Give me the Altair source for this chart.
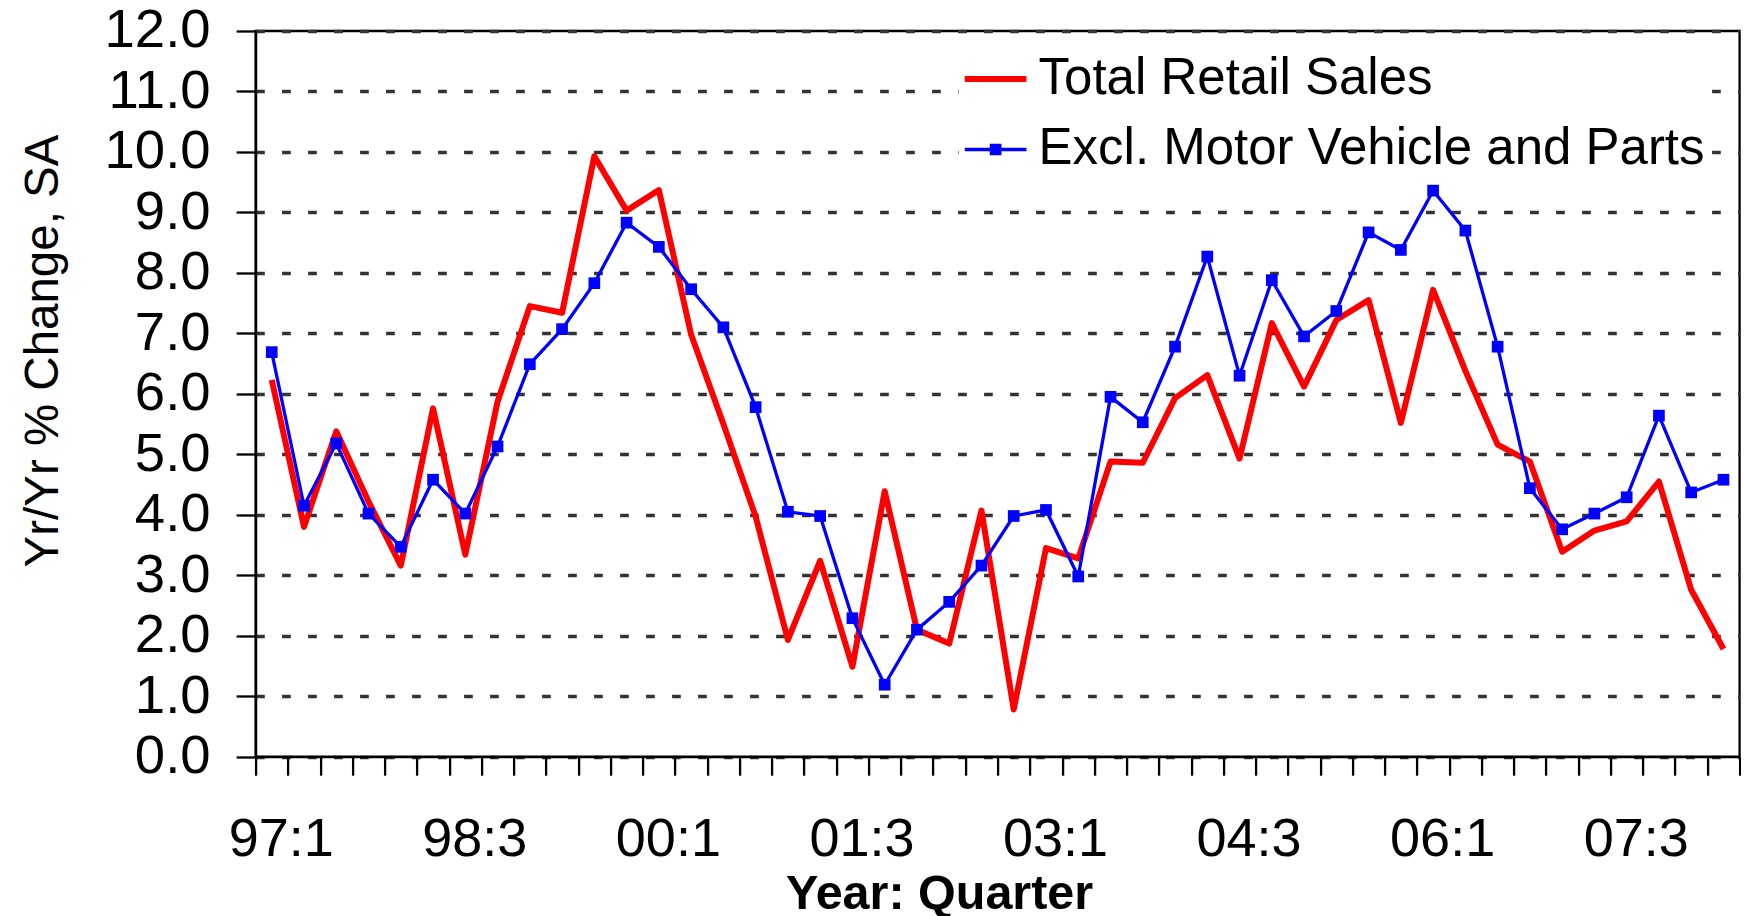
import json
import altair as alt
import pandas as pd

# ---- data -------------------------------------------------------------
quarters = [f"{y % 100:02d}:{q}" for y in range(1997, 2009) for q in range(1, 5)][:46]
shown_labels = ["97:1", "98:3", "00:1", "01:3", "03:1", "04:3", "06:1", "07:3"]

series_names = ["Total Retail Sales", "Excl. Motor Vehicle and Parts"]

total_retail = [6.23, 3.80, 5.38, 4.22, 3.16, 5.76, 3.34, 5.87, 7.45, 7.34,
                9.93, 9.03, 9.37, 6.98, 5.50, 3.97, 1.93, 3.24, 1.49, 4.39,
                2.10, 1.87, 4.07, 0.78, 3.45, 3.28, 4.88, 4.86, 5.93, 6.31,
                4.93, 7.17, 6.12, 7.22, 7.55, 5.52, 7.72, 6.38, 5.16, 4.88,
                3.39, 3.74, 3.89, 4.55, 2.76, 1.78]

excl_motor = [6.69, 4.15, 5.18, 4.02, 3.47, 4.58, 4.02, 5.13, 6.49, 7.07,
              7.83, 8.83, 8.43, 7.73, 7.10, 5.78, 4.05, 3.98, 2.29, 1.19,
              2.10, 2.56, 3.16, 3.98, 4.08, 2.98, 5.95, 5.53, 6.78, 8.27,
              6.30, 7.88, 6.95, 7.37, 8.67, 8.38, 9.36, 8.70, 6.78, 4.44,
              3.76, 4.02, 4.29, 5.64, 4.37, 4.58]

df = pd.DataFrame({
    "quarter": quarters * 2,
    "series": [series_names[0]] * len(quarters) + [series_names[1]] * len(quarters),
    "value": total_retail + excl_motor,
})
legend_df = pd.DataFrame({"series": series_names})

FONT = "Liberation Sans"
RED = "#ff0000"
BLUE = "#0000ff"

x_scale = alt.Scale(type="band", domain=quarters, paddingInner=0, paddingOuter=0)
label_expr = f"indexof({json.dumps(shown_labels)}, datum.value) >= 0 ? datum.value : ''"

x_enc = alt.X(
    "quarter:O", sort=quarters, scale=x_scale, bandPosition=0.5,
    axis=alt.Axis(
        title="Year: Quarter", titleFontSize=48.5, titleFontWeight="bold",
        titleX=683.5, titleY=151.5, titleBaseline="alphabetic", titleAlign="center",
        labelExpr=label_expr, labelAngle=0, labelFontSize=54, labelBaseline="alphabetic",
        labelPadding=80, labelOffset=9, labelColor="black", labelOverlap=False,
        tickBand="extent", tickSize=18.5, tickWidth=2.3, tickColor="black",
        domainColor="black", domainWidth=2.3, grid=False,
    ),
)
y_enc = alt.Y(
    "value:Q",
    scale=alt.Scale(domain=[0, 12], nice=False, zero=True),
    axis=alt.Axis(
        title="Yr/Yr % Change, SA", titleFontSize=47.5, titleFontWeight="normal",
        titleX=-198, titleY=319.5, titleAngle=270, titleBaseline="alphabetic",
        titleAlign="center",
        values=list(range(0, 13)), format=".1f",
        labelFontSize=54.5, labelPadding=26, labelColor="black",
        tickSize=19.5, tickWidth=2.3, tickColor="black",
        domainColor="black", domainWidth=2.3,
        grid=True, gridColor="#333333", gridWidth=3.5, gridDash=[8.7, 17.3],
    ),
)

base = alt.Chart(df)

red_line = base.transform_filter(alt.datum.series == series_names[0]).mark_line(
    color=RED, strokeWidth=6, strokeJoin="round"
).encode(x=x_enc, y=y_enc)

blue_line = base.transform_filter(alt.datum.series == series_names[1]).mark_line(
    color=BLUE, strokeWidth=3.3
).encode(x=x_enc, y=y_enc)

blue_pts = base.transform_filter(alt.datum.series == series_names[1]).mark_square(
    color=BLUE, size=137, opacity=1
).encode(x=x_enc, y=y_enc)

red_path = "M-1,-0.097H1V0.097H-1Z"
blue_path = "M-1,-0.053H1V0.053H-1Z M-0.19,-0.19H0.19V0.19H-0.19Z"

legend_layer = alt.Chart(legend_df).mark_point(filled=True, opacity=0).encode(
    color=alt.Color("series:N", sort=series_names,
                    scale=alt.Scale(domain=series_names, range=[RED, BLUE]),
                    legend=alt.Legend(title=None)),
    shape=alt.Shape("series:N", sort=series_names,
                    scale=alt.Scale(domain=series_names, range=[red_path, blue_path]),
                    legend=alt.Legend(title=None)),
)

chart = alt.layer(red_line, blue_line, blue_pts, legend_layer).properties(
    width=1484, height=725.7,
    autosize=alt.AutoSizeParams(type="none"),
    padding={"left": 247.6, "top": 23, "right": 1, "bottom": 162},
).configure(
    font=FONT,
).configure_view(
    stroke="black", strokeWidth=2.3, fill="white",
).configure_legend(
    orient="none", legendX=703, legendY=11,
    fillColor="white", strokeColor=None, padding=6,
    symbolSize=3800, symbolStrokeWidth=0, symbolOpacity=1,
    labelFontSize=51, labelColor="black", labelFont=FONT, labelOffset=12,
    rowPadding=14.5, labelLimit=1000,
)

chart.save("out.html", embed_options={"renderer": "svg", "actions": False})
